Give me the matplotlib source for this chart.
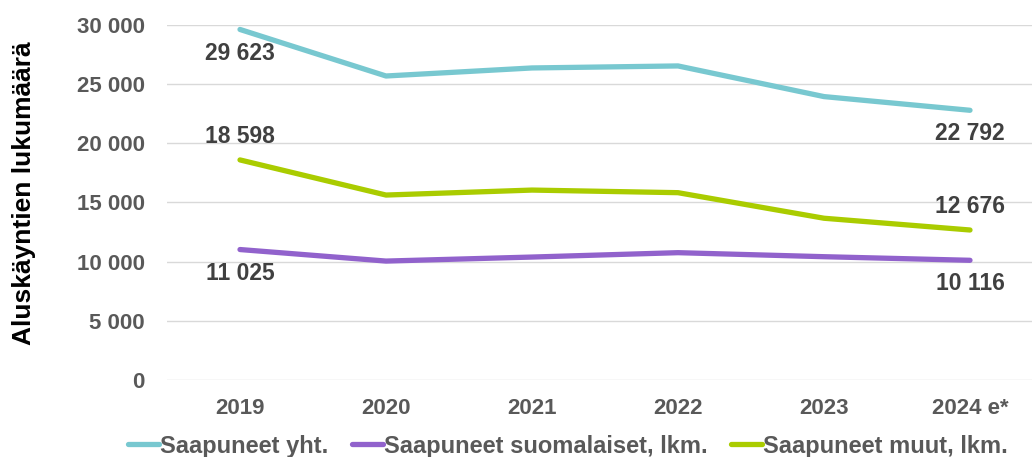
import numpy as np
import matplotlib
matplotlib.use('Agg')
import matplotlib.pyplot as plt
from matplotlib.ticker import FuncFormatter

plt.rcParams['font.family'] = ['Liberation Sans', 'DejaVu Sans']
plt.rcParams['font.weight'] = 'bold'

### DATA
years = ['2019', '2020', '2021', '2022', '2023', '2024 e*']
yht = [29623, 25690, 26370, 26540, 23950, 22792]
suomalaiset = [11025, 10050, 10390, 10760, 10420, 10116]
muut = [18598, 15630, 16050, 15830, 13670, 12676]

names = ['Saapuneet yht.', 'Saapuneet suomalaiset, lkm.', 'Saapuneet muut, lkm.']
colors = ['#78C8D0', '#9162CC', '#AACC00']

grey = '#595959'
label_col = '#404040'

def fmt(v):
    return '{:,}'.format(int(v)).replace(',', ' ')

### FIGURE
fig = plt.figure(figsize=(10.32, 4.57), dpi=100)
W, H = 1032, 457
ax = fig.add_axes([167 / W, 1 - 380 / H, (1032 - 167) / W, (380 - 25) / H])

x = np.arange(len(years))
series = [yht, suomalaiset, muut]
for vals, name, c in zip(series, names, colors):
    ax.plot(x, vals, color=c, lw=3.8, solid_capstyle='round',
            solid_joinstyle='round', label=name)

# data labels (first and last point)
offs = {0: (-1, -1), 1: (-1, -1), 2: (1, 1)}  # below / above for first, last
for i, vals in enumerate(series):
    for j, k in enumerate([0, len(x) - 1]):
        d = offs[i][j]
        ax.annotate(fmt(vals[k]), (x[k], vals[k]), xytext=(0, 17 * d),
                    textcoords='offset points', ha='center', va='center',
                    fontsize=16.5, fontweight='bold', color=label_col)

ax.set_ylim(0, 30000)
ax.set_yticks(np.arange(0, 30001, 5000))
ax.yaxis.set_major_formatter(FuncFormatter(lambda v, p: fmt(v)))
ax.set_xlim(-0.5, 5 + (1032 - 970) / 146)
ax.set_xticks(x)
ax.set_xticklabels(years)

ax.grid(axis='y', color='#D9D9D9', lw=1)
ax.set_axisbelow(True)
for s in ax.spines.values():
    s.set_visible(False)
ax.tick_params(axis='both', length=0, labelsize=16, labelcolor=grey)
ax.tick_params(axis='y', pad=16)
ax.tick_params(axis='x', pad=13)
for t in ax.get_xticklabels() + ax.get_yticklabels():
    t.set_fontweight('bold')

fig.text(24 / W, 1 - 193 / H, 'Aluskäyntien lukumäärä', rotation=90,
         ha='center', va='center', fontsize=19, fontweight='bold', color='black')

leg = fig.legend(loc='center', bbox_to_anchor=(568 / W, 1 - 446 / H), ncol=3,
                 frameon=False, fontsize=17, handlelength=1.3,
                 handletextpad=0.05, columnspacing=1.0, labelcolor=grey)
for t in leg.get_texts():
    t.set_fontweight('bold')

fig.savefig('out.png', dpi=100)
